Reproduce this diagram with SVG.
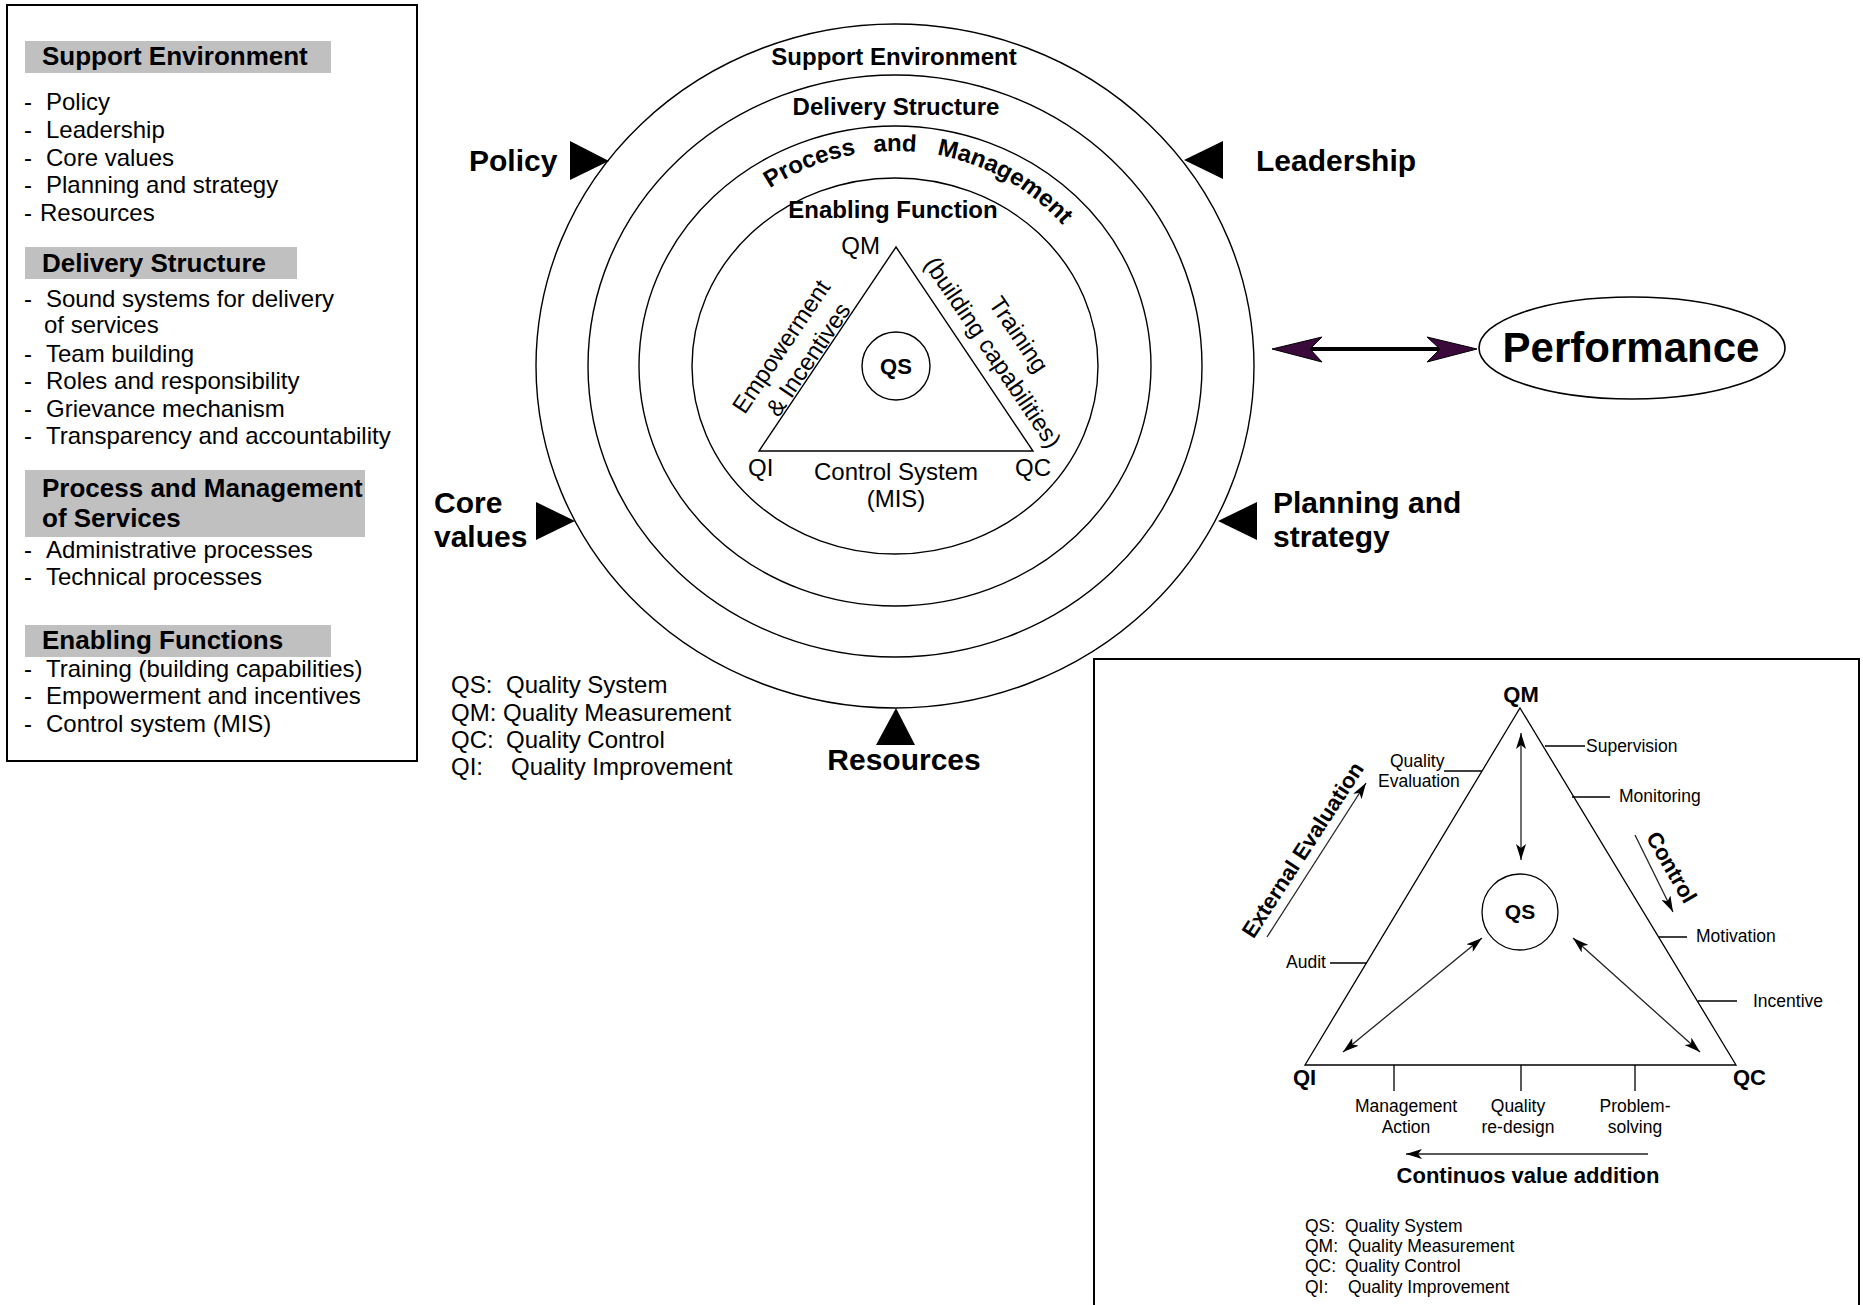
<svg xmlns="http://www.w3.org/2000/svg" width="1863" height="1305" viewBox="0 0 1863 1305">
  <style>
    text { font-family: "Liberation Sans", Arial, sans-serif; fill: #000; }
    .b { font-weight: bold; }
    .hdr { font-size: 26px; font-weight: bold; }
    .li { font-size: 24px; }
    .ring { font-size: 24px; font-weight: bold; }
    .lab { font-size: 30px; font-weight: bold; }
    .tri { font-size: 24px; }
    .sm { font-size: 17.5px; }
    .mid { text-anchor: middle; }
    .end { text-anchor: end; }
    .band { fill: #c0c0c0; }
    .frame { fill: #fff; stroke: #000; stroke-width: 2; }
    .ln { fill: none; stroke: #000; stroke-width: 1.4; }
    .thin { fill: none; stroke: #000; stroke-width: 1.3; }
    .pin { fill: #000; }
  </style>
  <defs>
    <marker id="ah" viewBox="0 0 16 10" refX="16" refY="5" markerWidth="16" markerHeight="10" orient="auto-start-reverse" markerUnits="userSpaceOnUse">
      <path d="M0,0 L16,5 L0,10 L4,5 Z" fill="#000"/>
    </marker>
    <path id="pmArc" d="M673,366 A222,215 0 0 1 1117,366"/>
  </defs>

  <rect width="1863" height="1305" fill="#fff"/>

  <!-- Left panel: component list -->
  <g id="component-list">
    <rect class="frame" x="7" y="5" width="410" height="756"/>
    <rect class="band" x="25" y="41" width="306" height="32"/>
    <text class="hdr" x="42" y="65">Support Environment</text>
    <text class="li" x="24" y="110">-</text><text class="li" x="46" y="110">Policy</text>
    <text class="li" x="24" y="138">-</text><text class="li" x="46" y="138">Leadership</text>
    <text class="li" x="24" y="166">-</text><text class="li" x="46" y="166">Core values</text>
    <text class="li" x="24" y="193">-</text><text class="li" x="46" y="193">Planning and strategy</text>
    <text class="li" x="24" y="221">-</text><text class="li" x="40" y="221">Resources</text>

    <rect class="band" x="25" y="247" width="272" height="32"/>
    <text class="hdr" x="42" y="272">Delivery Structure</text>
    <text class="li" x="24" y="307">-</text><text class="li" x="46" y="307">Sound systems for delivery</text>
    <text class="li" x="44" y="333">of services</text>
    <text class="li" x="24" y="362">-</text><text class="li" x="46" y="362">Team building</text>
    <text class="li" x="24" y="389">-</text><text class="li" x="46" y="389">Roles and responsibility</text>
    <text class="li" x="24" y="417">-</text><text class="li" x="46" y="417">Grievance mechanism</text>
    <text class="li" x="24" y="444">-</text><text class="li" x="46" y="444">Transparency and accountability</text>

    <rect class="band" x="25" y="470" width="340" height="67"/>
    <text class="hdr" x="42" y="497">Process and Management</text>
    <text class="hdr" x="42" y="527">of Services</text>
    <text class="li" x="24" y="558">-</text><text class="li" x="46" y="558">Administrative processes</text>
    <text class="li" x="24" y="585">-</text><text class="li" x="46" y="585">Technical processes</text>

    <rect class="band" x="25" y="625" width="306" height="32"/>
    <text class="hdr" x="42" y="649">Enabling Functions</text>
    <text class="li" x="24" y="677">-</text><text class="li" x="46" y="677">Training (building capabilities)</text>
    <text class="li" x="24" y="704">-</text><text class="li" x="46" y="704">Empowerment and incentives</text>
    <text class="li" x="24" y="732">-</text><text class="li" x="46" y="732">Control system (MIS)</text>
  </g>

  <!-- Concentric rings -->
  <g id="ring-support">
    <ellipse class="ln" cx="895" cy="366" rx="359" ry="342"/>
    <text class="ring mid" x="894" y="65">Support Environment</text>
  </g>
  <g id="ring-delivery">
    <ellipse class="ln" cx="895" cy="366" rx="307" ry="291"/>
    <text class="ring mid" x="896" y="115">Delivery Structure</text>
  </g>
  <g id="ring-process">
    <ellipse class="ln" cx="895" cy="366" rx="256" ry="240"/>
    <text class="ring"><textPath href="#pmArc" startOffset="37.5%" text-anchor="middle">Process</textPath></text>
    <text class="ring"><textPath href="#pmArc" startOffset="50%" text-anchor="middle">and</textPath></text>
    <text class="ring"><textPath href="#pmArc" startOffset="66.8%" text-anchor="middle">Management</textPath></text>
  </g>
  <g id="ring-enabling">
    <ellipse class="ln" cx="895" cy="366" rx="203" ry="188"/>
    <text class="ring mid" x="893" y="218">Enabling Function</text>
  </g>

  <!-- Quality triangle inside the rings -->
  <g id="quality-triangle">
    <polygon class="ln" points="896,247 1033,451 759,451"/>
    <text class="tri end" x="880" y="254">QM</text>
    <text class="tri" x="748" y="476">QI</text>
    <text class="tri" x="1015" y="476">QC</text>
    <text class="tri mid" x="896" y="480">Control System</text>
    <text class="tri mid" x="896" y="507">(MIS)</text>
    <text class="tri mid" transform="translate(788,351) rotate(-56)">Empowerment</text>
    <text class="tri mid" transform="translate(815,364) rotate(-56)">&amp; Incentives</text>
    <text class="tri mid" transform="translate(1012,339) rotate(56)">Training</text>
    <text class="tri mid" transform="translate(986,357) rotate(56)">(building capabilities)</text>
  </g>
  <g id="qs-core">
    <circle class="ln" cx="896" cy="366" r="34"/>
    <text class="b mid" x="896" y="374" font-size="22">QS</text>
  </g>

  <!-- Inputs acting on the support environment -->
  <g id="input-policy">
    <polygon class="pin" points="570,141 570,180 609,161"/>
    <text class="lab" x="469" y="171">Policy</text>
  </g>
  <g id="input-leadership">
    <polygon class="pin" points="1223,141 1223,179 1184,160"/>
    <text class="lab" x="1256" y="171">Leadership</text>
  </g>
  <g id="input-core-values">
    <polygon class="pin" points="536,502 536,540 575,521"/>
    <text class="lab" x="434" y="513">Core</text>
    <text class="lab" x="434" y="547">values</text>
  </g>
  <g id="input-planning">
    <polygon class="pin" points="1257,502 1257,540 1218,521"/>
    <text class="lab" x="1273" y="513">Planning and</text>
    <text class="lab" x="1273" y="547">strategy</text>
  </g>
  <g id="input-resources">
    <polygon class="pin" points="896,708 915,745 876,745"/>
    <text class="lab mid" x="904" y="770">Resources</text>
  </g>

  <g id="performance">
    <ellipse cx="1632" cy="348" rx="153" ry="51" fill="#fff" stroke="#000" stroke-width="1.6"/>
    <text class="b mid" x="1631" y="362" font-size="42">Performance</text>
  </g>

  <g id="legend-main">
    <text class="li" x="451" y="693">QS:</text><text class="li" x="506" y="693">Quality System</text>
    <text class="li" x="451" y="721">QM:</text><text class="li" x="503" y="721">Quality Measurement</text>
    <text class="li" x="451" y="748">QC:</text><text class="li" x="506" y="748">Quality Control</text>
    <text class="li" x="451" y="775">QI:</text><text class="li" x="511" y="775">Quality Improvement</text>
  </g>

  <!-- Inset: quality cycle -->
  <g id="inset">
    <rect class="frame" x="1094" y="659" width="765" height="660"/>
    <polygon class="thin" points="1520,708 1736,1065 1305,1065"/>
    <text class="b mid" x="1521" y="702" font-size="22">QM</text>
    <text class="b" x="1293" y="1085" font-size="22">QI</text>
    <text class="b" x="1733" y="1085" font-size="22">QC</text>
  </g>
  <g id="inset-qs">
    <circle class="thin" cx="1520" cy="912" r="38"/>
    <text class="b mid" x="1520" y="919" font-size="21">QS</text>
  </g>
  <g id="inset-side-labels">
    <path class="thin" d="M1545,746 H1585 M1572,797 H1610 M1659,937 H1687 M1698,1001 H1737 M1444,771 H1482 M1330,963 H1367 M1394,1065 V1091 M1521,1065 V1091 M1635,1065 V1091"/>
    <text class="sm" x="1586" y="752">Supervision</text>
    <text class="sm" x="1619" y="802">Monitoring</text>
    <text class="sm" x="1696" y="942">Motivation</text>
    <text class="sm" x="1753" y="1007">Incentive</text>
    <text class="sm" x="1390" y="767">Quality</text>
    <text class="sm" x="1378" y="787">Evaluation</text>
    <text class="sm" x="1286" y="968">Audit</text>
    <text class="sm mid" x="1406" y="1112">Management</text>
    <text class="sm mid" x="1406" y="1133">Action</text>
    <text class="sm mid" x="1518" y="1112">Quality</text>
    <text class="sm mid" x="1518" y="1133">re-design</text>
    <text class="sm mid" x="1635" y="1112">Problem-</text>
    <text class="sm mid" x="1635" y="1133">solving</text>
  </g>
  <g id="inset-flow-labels">
    <text class="b mid" font-size="22" transform="translate(1309,854) rotate(-57)">External Evaluation</text>
    <text class="b mid" font-size="22" transform="translate(1665,871) rotate(60)">Control</text>
    <text class="b mid" x="1528" y="1183" font-size="22">Continuos value addition</text>
  </g>
  <g id="legend-inset">
    <text class="sm" x="1305" y="1232">QS:</text><text class="sm" x="1345" y="1232">Quality System</text>
    <text class="sm" x="1305" y="1252">QM:</text><text class="sm" x="1348" y="1252">Quality Measurement</text>
    <text class="sm" x="1305" y="1272">QC:</text><text class="sm" x="1345" y="1272">Quality Control</text>
    <text class="sm" x="1305" y="1293">QI:</text><text class="sm" x="1348" y="1293">Quality Improvement</text>
  </g>

  <!-- Connectors -->
  <g id="connectors">
    <line x1="1305" y1="349" x2="1445" y2="349" stroke="#000" stroke-width="4"/>
    <path d="M1272,349 L1322,337 L1310,349 L1322,362 Z" fill="#3a0a3a" stroke="#000" stroke-width="1"/>
    <path d="M1477,349 L1427,337 L1440,349 L1427,362 Z" fill="#3a0a3a" stroke="#000" stroke-width="1"/>
    <g stroke="#222" stroke-width="1.3" fill="none">
      <line x1="1521" y1="733" x2="1521" y2="860" marker-start="url(#ah)" marker-end="url(#ah)"/>
      <line x1="1482" y1="938" x2="1343" y2="1052" marker-start="url(#ah)" marker-end="url(#ah)"/>
      <line x1="1573" y1="938" x2="1700" y2="1052" marker-start="url(#ah)" marker-end="url(#ah)"/>
      <line x1="1267" y1="937" x2="1366" y2="783" marker-end="url(#ah)"/>
      <line x1="1635" y1="835" x2="1673" y2="912" marker-end="url(#ah)"/>
      <line x1="1648" y1="1154" x2="1406" y2="1154" marker-end="url(#ah)"/>
    </g>
  </g>
</svg>
